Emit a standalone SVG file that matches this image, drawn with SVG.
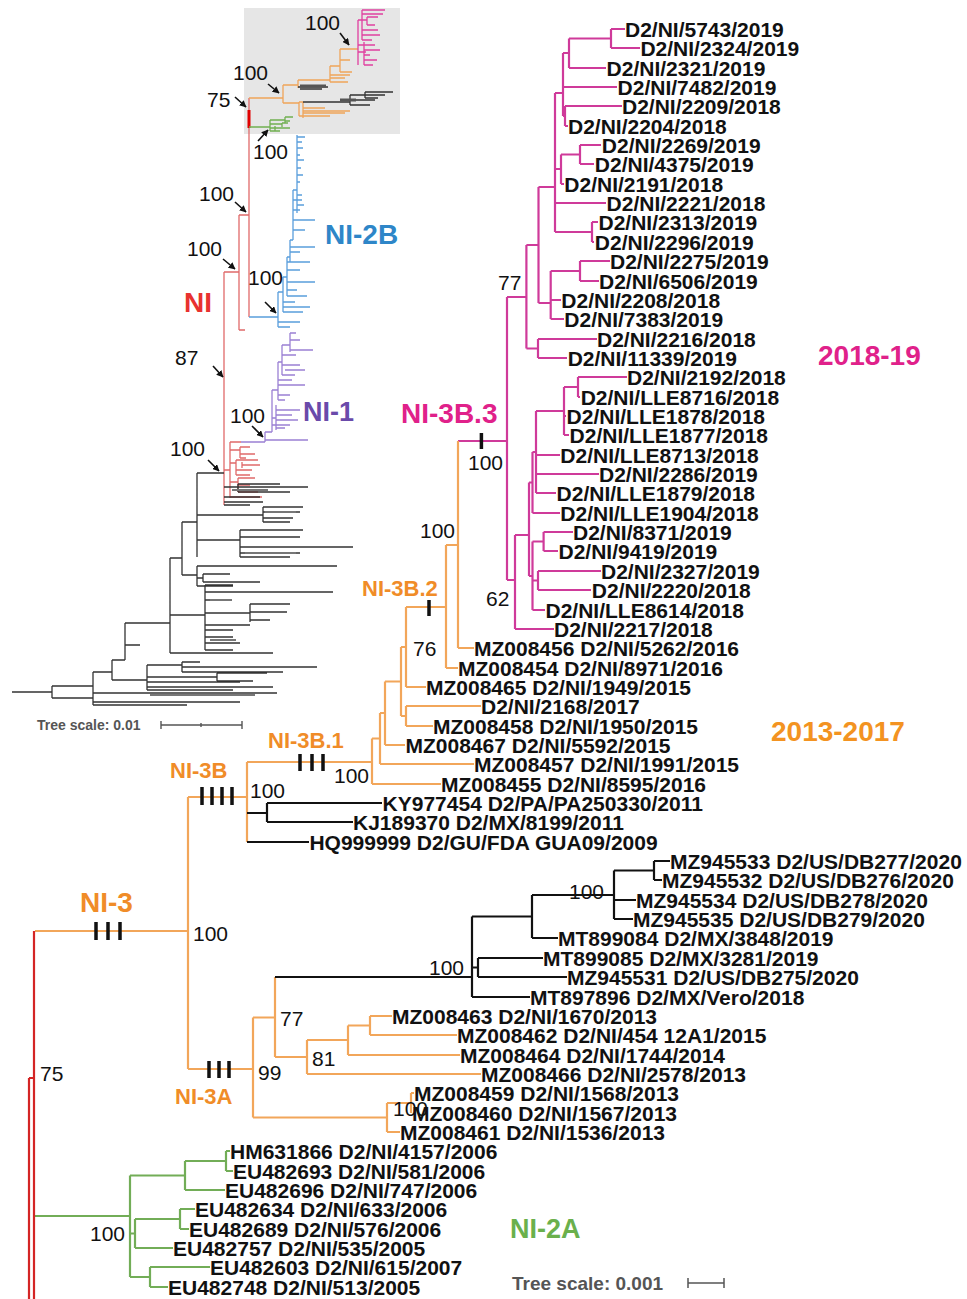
<svg xmlns="http://www.w3.org/2000/svg" width="967" height="1299" viewBox="0 0 967 1299">
<defs>
<style>
.lb{font-family:"Liberation Sans",Arial,sans-serif;font-weight:bold;font-size:21px;fill:#111}
.bs{font-family:"Liberation Sans",Arial,sans-serif;font-size:21px;fill:#111}
.cl{font-family:"Liberation Sans",Arial,sans-serif;font-weight:bold}
.br{fill:none;stroke-width:2.2}
.ib{fill:none;stroke-width:1.3}
.mg{stroke:#cf3a9a}.or{stroke:#f2a65a}.gr{stroke:#72ad57}.rd{stroke:#d42525}.bk{stroke:#111}
.imr{stroke:#e06a6a}.imo{stroke:#f0a55a}.imm{stroke:#e040a0}.img{stroke:#70b050}.imb{stroke:#5a9edc}.imp{stroke:#9b80d4}.imk{stroke:#333}
.tick{stroke:#111;stroke-width:3.5;fill:none}
.arr{stroke:#111;stroke-width:1.6;fill:none}
</style>
<marker id="ah" viewBox="0 0 10 10" refX="9" refY="5" markerWidth="7" markerHeight="7" orient="auto" markerUnits="userSpaceOnUse"><path d="M0 0L10 5L0 10z" fill="#111"/></marker>
</defs>
<rect width="967" height="1299" fill="#fff"/>

<g id="inset">
<rect x="244" y="8" width="156" height="126" fill="#e6e6e6"/>
<g id="inset-branches">
<path class="ib imr" d="M249 98V317M239 215H249M239 215V330M239 330H245M224 272H239M224 272V505M224 470H230M230 442V498M230 442H241M230 450H240M240 447V458M240 447H250M240 454H255M240 458H246M230 463H236M236 460V475M236 460H258M242 462V468M242 465H260M236 470H252M236 475H250M230 482H238M238 478V492M238 478H255M238 485H250M238 492H258M230 497H262"/>
<path d="M249 110V128" stroke="#e00000" stroke-width="3" fill="none"/>
<path class="ib imo" d="M249 98H283M283 85V103M283 85H298M298 80V88M298 80H330M330 66V82M330 66H340M330 75H350M330 78H345M330 82H348M340 49V72M340 49H358M340 60H350M340 72H352M283 103H299M299 102V116M299 102H303M303 102V118M303 108H325M303 111H350M303 113H345M303 116H330M299 116H310"/>
<path class="ib imk" d="M298 87H328M300 89H322M303 102H350M350 95V105M350 95H365M365 92V98M365 92H393M365 95H385M365 98H378M350 100H375M350 105H370"/>
<path d="M300 86H326M340 100H356" stroke="#555" stroke-width="3" fill="none"/>
<path class="ib imm" d="M358 20V65M358 20H362M362 10V40M362 10H385M362 14H383M362 20H367M367 17V25M367 17H378M367 25H375M362 30H378M362 35H380M362 40H372M358 45H364M364 42V65M364 45H375M364 50H380M364 55H370M364 60H377M364 65H373M358 52H366"/>
<path class="ib img" d="M249 127H270M270 120V131M270 120H285M285 117V123M285 117H293M285 121H290M270 124H282M270 128H290M275 126V131M270 131H280M282 123V127M282 123H288"/>
<path class="ib imb" d="M249 317H278M278 292V327M278 327H290M278 322H300M278 292H283M283 277V312M283 312H303M283 307H310M283 302H295M283 277H287M287 257V296M287 296H307M287 290H297M287 282H315M287 270H300M287 262H310M287 257H290M290 240V262M290 247H315M290 252H300M290 240H293M293 190V240M293 220H315M293 230H305M293 210H300M293 200H302M293 190H297M297 135V213M297 137H305M297 142H302M297 148H303M297 155H300M297 160H304M297 168H301M297 175H303M297 182H300M297 195H302M297 205H304"/>
<path class="ib imp" d="M241 442H265M265 432V442M265 440H308M265 432H272M272 390V432M272 425H290M272 418H276M276 405V430M276 420H298M276 428H285M276 410H300M276 415H292M272 390H278M278 362V400M278 395H290M278 400H285M278 385H305M278 380H292M278 362H282M282 345V375M282 345H290M290 333V352M290 350H313M290 333H296M290 340H300M282 355H296M282 365H300M285 370H305M282 375H295"/>
<path class="ib imk" d="M12 692H52M52 686V698M52 686H93M52 698H93M93 672V705M93 672H112M93 693H277M93 702H240M93 705H187M112 660V680M112 660H125M112 680H147M147 665V690M147 665H182M147 677H217M147 682H240M147 687H273M147 690H233M182 662V672M182 662H200M182 667H317M182 672H283M217 673V681M217 673H267M217 681H253M125 623V660M125 623H170M125 645H140M170 558V653M170 558H182M170 653H273M170 615H205M205 585V650M205 585H233M205 592H333M205 600H215M205 613H250M250 604V622M250 604H290M250 612H287M250 620H270M205 625H250M205 630H233M205 637H233M205 643H240M205 650H233M182 522V575M182 522H197M182 575H197M197 566V586M197 566H337M197 586H233M197 578H203M203 574V582M203 574H230M203 582H260M197 473V557M197 473H224M197 515H263M263 507V522M263 507H303M263 512H300M263 518H293M263 522H290M197 540H240M240 530V557M240 530H303M240 537H300M240 547H353M240 553H300M240 557H290M224 487H308M238 484V492M238 484H280M238 492H290M224 497H260M224 502H263M224 505H250"/>
<path d="M232 490H268M210 600H232M150 695H255M265 512H296M245 553H296M210 640H236" stroke="#777" stroke-width="2" fill="none"/>
</g>
<g id="inset-arrows">
<path class="arr" marker-end="url(#ah)" d="M340 33L349 45"/>
<path class="arr" marker-end="url(#ah)" d="M268 84L279 93"/>
<path class="arr" marker-end="url(#ah)" d="M235 97L246 107"/>
<path class="arr" marker-end="url(#ah)" d="M258 141L268 130"/>
<path class="arr" marker-end="url(#ah)" d="M235 202L246 212"/>
<path class="arr" marker-end="url(#ah)" d="M223 259L235 269"/>
<path class="arr" marker-end="url(#ah)" d="M265 302L276 313"/>
<path class="arr" marker-end="url(#ah)" d="M213 366L223 377"/>
<path class="arr" marker-end="url(#ah)" d="M252 426L263 437"/>
<path class="arr" marker-end="url(#ah)" d="M208 460L219 471"/>
</g>
<g id="inset-labels">
<text class="bs" x="305" y="29.5">100</text>
<text class="bs" x="233" y="79.5">100</text>
<text class="bs" x="207" y="106.5">75</text>
<text class="bs" x="253" y="158.5">100</text>
<text class="bs" x="199" y="200.5">100</text>
<text class="bs" x="187" y="255.5">100</text>
<text class="bs" x="248" y="284.5">100</text>
<text class="bs" x="175" y="364.5">87</text>
<text class="bs" x="230" y="422.5">100</text>
<text class="bs" x="170" y="455.5">100</text>
<text class="cl" x="184" y="312" font-size="28" fill="#e8322f">NI</text>
<text class="cl" x="325" y="244" font-size="28" fill="#2e86c8">NI-2B</text>
<text class="cl" x="303" y="421" font-size="27" fill="#6a4aaa">NI-1</text>
<text class="cl" x="37" y="730" font-size="14" fill="#555">Tree scale: 0.01</text>
<path d="M161 725H242M161 721V729M242 721V729M201 723V727" stroke="#555" stroke-width="1.4" fill="none"/>
</g>
</g>

<g id="connectors">
<path class="br mg" d="M611 29V48M611 29H625M611 48H640M569 38.5V68M569 38.5H611M569 68H606M565 106V126M565 106H622M565 126H568M563 53V116M563 53H569M563 87H617M563 116H565M580 145V164M580 145H601M580 164H594M561 154.5V184M561 154.5H580M561 184H564M592 222V242M592 222H598M592 242H594M555 93V232M555 93H563M555 169H561M555 203H606M555 232H592M580 261V281M580 261H610M580 281H599M550.7 271V319M550.7 271H580M550.7 300H561M550.7 319H564M538.5 187V303M538.5 187H555M538.5 303H550.7M538 339V358M538 339H597M538 358H567M526.4 245V348.5M526.4 245H538.5M526.4 348.5H538M507 297V580M507 297H526.4M458 441H507"/>
<path class="br mg" d="M578 377V397M578 377H627M578 397H580M564 387V435M564 387H578M564 416H566M564 435H569M536 411V493M536 411H564M536 455H560M536 474H599M536 493H556M532.5 452V513M532.5 452H536M532.5 513H560M543.6 532V551M543.6 532H573M543.6 551H558M538 571V590M538 571H601M538 590H591M532.5 541.5V610M532.5 541.5H543.6M532.5 580.5H538M532.5 610H545M529 482.5V576M529 482.5H532.5M529 576H532.5M515 535V629M515 535H529M515 629H554M507 580H515"/>
<path class="br or" d="M458 441V648M458 648H474M446 545V668M446 545H458M446 668H458M406 607V687M406 607H446M406 687H426M406 706V726M406 706H481M406 726H433M401 647V716M401 647H406M401 716H406M385 681.5V745M385 681.5H401M385 745H405M380 713V764M380 713H385M380 764H474M372 738.5V784M372 738.5H380M372 784H441M247 762H372M247 762V842M188 797H247M188 797V1069M35 931H188M188 1069H253M253 1017.5V1117.5M253 1017.5H275M275 977V1057M275 1057H307M307 1040V1074M307 1040H348M307 1074H481M348 1025.5V1055M348 1025.5H370M348 1055H460M370 1016V1035M370 1016H392M370 1035H457M253 1117.5H387M387 1103V1132M387 1103H411M387 1132H400M411 1093V1113M411 1093H414"/>
<path class="br bk" d="M247 813H267M267 803V822M267 803H382M267 822H353M247 842H309M275 977H472M472 916.5V997M472 916.5H532M472 967.5H478M472 997H530M478 958V977M478 958H543M478 977H567M532 895V938M532 895H614M532 938H558M614 870.5V919M614 870.5H654M614 900H636M614 919H633M654 861V880M654 861H670M654 880H662"/>
<path class="br gr" d="M34 1216H130M130 1175.5V1277M130 1175.5H185M185 1161V1190M185 1161H226M226 1151V1171M226 1151H230M226 1171H233M185 1190H225M130 1233.5H135M135 1219V1248M135 1219H180M180 1209V1229M180 1209H195M180 1229H189M135 1248H173M130 1277H150M150 1267V1287M150 1267H210M150 1287H168"/>
<path class="br rd" d="M34 931V1299M29 1078V1299M29 1078H34"/>
<path class="tick" d="M481.4 433V449M429 600V616M300 754V771M312 754V771M323 754V771M202 787V805M212 787V805M222 787V805M232 787V805M96 922V940M108 922V940M120 922V940M209 1061V1078M219 1061V1078M229 1061V1078"/>
</g>

<g id="support">
<text class="bs" x="498" y="289.5">77</text>
<text class="bs" x="468" y="469.5">100</text>
<text class="bs" x="486" y="605.5">62</text>
<text class="bs" x="420" y="537.5">100</text>
<text class="bs" x="413" y="655.5">76</text>
<text class="bs" x="334" y="782.5">100</text>
<text class="bs" x="250" y="797.5">100</text>
<text class="bs" x="193" y="940.5">100</text>
<text class="bs" x="569" y="898.5">100</text>
<text class="bs" x="429" y="974.5">100</text>
<text class="bs" x="280" y="1025.5">77</text>
<text class="bs" x="312" y="1065.5">81</text>
<text class="bs" x="258" y="1079.5">99</text>
<text class="bs" x="393" y="1115.5">100</text>
<text class="bs" x="90" y="1240.5">100</text>
<text class="bs" x="40" y="1080.5">75</text>
</g>

<g id="clades">
<text class="cl" x="401" y="423" font-size="28" fill="#e0218a">NI-3B.3</text>
<text class="cl" x="362" y="596" font-size="22" fill="#f08c28">NI-3B.2</text>
<text class="cl" x="268" y="748" font-size="22" fill="#f08c28">NI-3B.1</text>
<text class="cl" x="170" y="778" font-size="22" fill="#f08c28">NI-3B</text>
<text class="cl" x="80" y="912" font-size="28" fill="#f08c28">NI-3</text>
<text class="cl" x="175" y="1104" font-size="22" fill="#f08c28">NI-3A</text>
<text class="cl" x="771" y="741" font-size="28" fill="#f39321">2013-2017</text>
<text class="cl" x="818" y="365" font-size="28" fill="#e0218a">2018-19</text>
<text class="cl" x="510" y="1238" font-size="27" fill="#6ab04c">NI-2A</text>
<text class="cl" x="512" y="1290" font-size="19" fill="#555">Tree scale: 0.001</text>
<path d="M688 1283H724M688 1278V1288M724 1278V1288" stroke="#555" stroke-width="1.5" fill="none"/>
</g>

<g id="leaves">
<g id="n01"><text class="lb" x="625" y="36.5">D2/NI/5743/2019</text></g>
<g id="n02"><text class="lb" x="640.4" y="55.5">D2/NI/2324/2019</text></g>
<g id="n03"><text class="lb" x="606.6" y="75.5">D2/NI/2321/2019</text></g>
<g id="n04"><text class="lb" x="617.6" y="94.5">D2/NI/7482/2019</text></g>
<g id="n05"><text class="lb" x="622" y="113.5">D2/NI/2209/2018</text></g>
<g id="n06"><text class="lb" x="568" y="133.5">D2/NI/2204/2018</text></g>
<g id="n07"><text class="lb" x="601.8" y="152.5">D2/NI/2269/2019</text></g>
<g id="n08"><text class="lb" x="594.8" y="171.5">D2/NI/4375/2019</text></g>
<g id="n09"><text class="lb" x="564.3" y="191.5">D2/NI/2191/2018</text></g>
<g id="n10"><text class="lb" x="606.6" y="210.5">D2/NI/2221/2018</text></g>
<g id="n11"><text class="lb" x="598.5" y="229.5">D2/NI/2313/2019</text></g>
<g id="n12"><text class="lb" x="594.8" y="249.5">D2/NI/2296/2019</text></g>
<g id="n13"><text class="lb" x="610" y="268.5">D2/NI/2275/2019</text></g>
<g id="n14"><text class="lb" x="599" y="288.5">D2/NI/6506/2019</text></g>
<g id="n15"><text class="lb" x="561.3" y="307.5">D2/NI/2208/2018</text></g>
<g id="n16"><text class="lb" x="564.3" y="326.5">D2/NI/7383/2019</text></g>
<g id="n17"><text class="lb" x="597" y="346.5">D2/NI/2216/2018</text></g>
<g id="n18"><text class="lb" x="567.7" y="365.5">D2/NI/11339/2019</text></g>
<g id="n19"><text class="lb" x="627" y="384.5">D2/NI/2192/2018</text></g>
<g id="n20"><text class="lb" x="580.7" y="404.5">D2/NI/LLE8716/2018</text></g>
<g id="n21"><text class="lb" x="566.6" y="423.5">D2/NI/LLE1878/2018</text></g>
<g id="n22"><text class="lb" x="569.6" y="442.5">D2/NI/LLE1877/2018</text></g>
<g id="n23"><text class="lb" x="560.3" y="462.5">D2/NI/LLE8713/2018</text></g>
<g id="n24"><text class="lb" x="599" y="481.5">D2/NI/2286/2019</text></g>
<g id="n25"><text class="lb" x="556.6" y="500.5">D2/NI/LLE1879/2018</text></g>
<g id="n26"><text class="lb" x="560.3" y="520.5">D2/NI/LLE1904/2018</text></g>
<g id="n27"><text class="lb" x="573" y="539.5">D2/NI/8371/2019</text></g>
<g id="n28"><text class="lb" x="558.5" y="558.5">D2/NI/9419/2019</text></g>
<g id="n29"><text class="lb" x="601" y="578.5">D2/NI/2327/2019</text></g>
<g id="n30"><text class="lb" x="591.8" y="597.5">D2/NI/2220/2018</text></g>
<g id="n31"><text class="lb" x="545.5" y="617.5">D2/NI/LLE8614/2018</text></g>
<g id="n32"><text class="lb" x="554" y="636.5">D2/NI/2217/2018</text></g>
<g id="n33"><text class="lb" x="474" y="655.5">MZ008456 D2/NI/5262/2016</text></g>
<g id="n34"><text class="lb" x="458" y="675.5">MZ008454 D2/NI/8971/2016</text></g>
<g id="n35"><text class="lb" x="426" y="694.5">MZ008465 D2/NI/1949/2015</text></g>
<g id="n36"><text class="lb" x="481" y="713.5">D2/NI/2168/2017</text></g>
<g id="n37"><text class="lb" x="433" y="733.5">MZ008458 D2/NI/1950/2015</text></g>
<g id="n38"><text class="lb" x="405.5" y="752.5">MZ008467 D2/NI/5592/2015</text></g>
<g id="n39"><text class="lb" x="474" y="771.5">MZ008457 D2/NI/1991/2015</text></g>
<g id="n40"><text class="lb" x="441" y="791.5">MZ008455 D2/NI/8595/2016</text></g>
<g id="n41"><text class="lb" x="382.6" y="810.5">KY977454 D2/PA/PA250330/2011</text></g>
<g id="n42"><text class="lb" x="353" y="829.5">KJ189370 D2/MX/8199/2011</text></g>
<g id="n43"><text class="lb" x="309.4" y="849.5">HQ999999 D2/GU/FDA GUA09/2009</text></g>
<g id="n44"><text class="lb" x="670" y="868.5">MZ945533 D2/US/DB277/2020</text></g>
<g id="n45"><text class="lb" x="662" y="887.5">MZ945532 D2/US/DB276/2020</text></g>
<g id="n46"><text class="lb" x="636" y="907.5">MZ945534 D2/US/DB278/2020</text></g>
<g id="n47"><text class="lb" x="633" y="926.5">MZ945535 D2/US/DB279/2020</text></g>
<g id="n48"><text class="lb" x="558" y="945.5">MT899084 D2/MX/3848/2019</text></g>
<g id="n49"><text class="lb" x="543" y="965.5">MT899085 D2/MX/3281/2019</text></g>
<g id="n50"><text class="lb" x="567" y="984.5">MZ945531 D2/US/DB275/2020</text></g>
<g id="n51"><text class="lb" x="530" y="1004.5">MT897896 D2/MX/Vero/2018</text></g>
<g id="n52"><text class="lb" x="392" y="1023.5">MZ008463 D2/NI/1670/2013</text></g>
<g id="n53"><text class="lb" x="457" y="1042.5">MZ008462 D2/NI/454 12A1/2015</text></g>
<g id="n54"><text class="lb" x="460" y="1062.5">MZ008464 D2/NI/1744/2014</text></g>
<g id="n55"><text class="lb" x="481" y="1081.5">MZ008466 D2/NI/2578/2013</text></g>
<g id="n56"><text class="lb" x="414" y="1100.5">MZ008459 D2/NI/1568/2013</text></g>
<g id="n57"><text class="lb" x="412" y="1120.5">MZ008460 D2/NI/1567/2013</text></g>
<g id="n58"><text class="lb" x="400" y="1139.5">MZ008461 D2/NI/1536/2013</text></g>
<g id="n59"><text class="lb" x="230" y="1158.5">HM631866 D2/NI/4157/2006</text></g>
<g id="n60"><text class="lb" x="233" y="1178.5">EU482693 D2/NI/581/2006</text></g>
<g id="n61"><text class="lb" x="225" y="1197.5">EU482696 D2/NI/747/2006</text></g>
<g id="n62"><text class="lb" x="195" y="1216.5">EU482634 D2/NI/633/2006</text></g>
<g id="n63"><text class="lb" x="189" y="1236.5">EU482689 D2/NI/576/2006</text></g>
<g id="n64"><text class="lb" x="173" y="1255.5">EU482757 D2/NI/535/2005</text></g>
<g id="n65"><text class="lb" x="210" y="1274.5">EU482603 D2/NI/615/2007</text></g>
<g id="n66"><text class="lb" x="168" y="1294.5">EU482748 D2/NI/513/2005</text></g>
</g>
</svg>
